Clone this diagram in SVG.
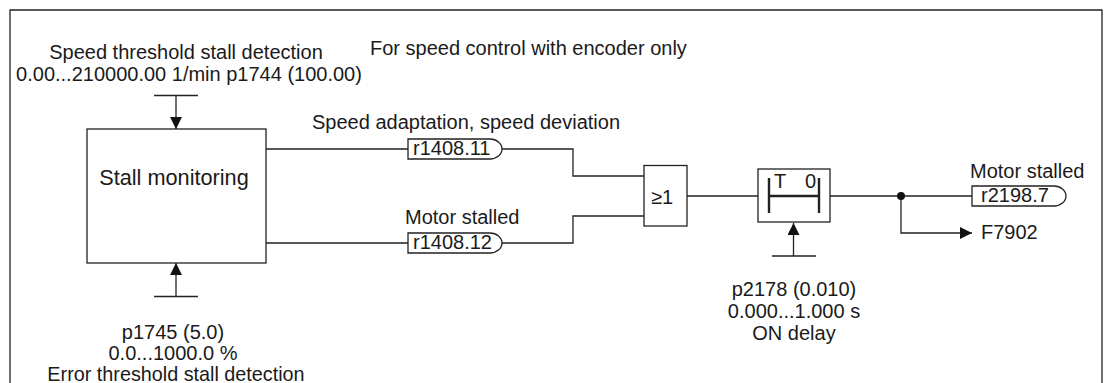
<svg xmlns="http://www.w3.org/2000/svg" width="1111" height="383" viewBox="0 0 1111 383">
<style>
text{font-family:"Liberation Sans",Arial,sans-serif;font-size:20px;fill:#1a1a1a}
.m{text-anchor:middle}
.s{fill:#fff;stroke:#222;stroke-width:1.3}
.l{fill:none;stroke:#222;stroke-width:1.3}
.h{fill:none;stroke:#222;stroke-width:2.4}
</style>
<defs><marker id="a" markerUnits="userSpaceOnUse" markerWidth="12" markerHeight="12" refX="12" refY="6" orient="auto"><path d="M0 0L12 6L0 12z" fill="#111"/></marker></defs>
<rect width="1111" height="383" fill="#fff"/>
<path class="l" d="M10 383V10H1102V383"/>
<g id="connectors">
<path class="l" d="M154 95.5H198M176 95.5V129" marker-end="url(#a)"/>
<path class="l" d="M154 296.5H198M176 296.5V263" marker-end="url(#a)"/>
<path class="l" d="M266 149H408M502 149H573V176H644"/>
<path class="l" d="M266 243H408M502 243H573V216H644"/>
<path class="l" d="M687 196H758M830 196H972"/>
<path class="l" d="M901 196V233H972" marker-end="url(#a)"/>
<path class="l" d="M772 256H816M793.500 256V223" marker-end="url(#a)"/>
<circle cx="901" cy="196" r="4" fill="#111"/>
</g>
<g id="caption"><text x="370" y="54.500">For speed control with encoder only</text></g>
<g id="param-speed"><text class="m" x="186" y="59">Speed threshold stall detection</text><text class="m" x="189" y="81">0.00...210000.00 1/min p1744 (100.00)</text></g>
<g id="stall-monitoring"><rect class="s" x="87" y="129" width="179" height="134"/><text class="m" x="174" y="185" style="font-size:21.700px">Stall monitoring</text></g>
<g id="param-error"><text class="m" x="173" y="339">p1745 (5.0)</text><text class="m" x="173" y="360">0.0...1000.0 %</text><text class="m" x="176" y="381" style="font-size:19.800px">Error threshold stall detection</text></g>
<g id="r1408-11"><text x="312" y="129">Speed adaptation, speed deviation</text><path class="s" d="M408 139H490A12 10 0 0 1 490 159H408Z"/><text x="413" y="155">r1408.11</text></g>
<g id="r1408-12"><text x="405" y="224">Motor stalled</text><path class="s" d="M408 233H490A12 10 0 0 1 490 253H408Z"/><text x="413" y="249">r1408.12</text></g>
<g id="or-gate"><rect class="s" x="644" y="165.500" width="43" height="60.500"/><text x="651" y="204">≥1</text></g>
<g id="on-delay"><rect class="s" x="758" y="169" width="72" height="53"/><path class="h" d="M769 178V213M819 178V213"/><path class="h" d="M769 196H819"/><text x="774" y="188">T</text><text x="805" y="188">0</text></g>
<g id="param-delay"><text class="m" x="794" y="296">p2178 (0.010)</text><text class="m" x="794" y="318">0.000...1.000 s</text><text class="m" x="794" y="340">ON delay</text></g>
<g id="r2198-7"><text x="970" y="178">Motor stalled</text><path class="s" d="M972 186H1054A12 10 0 0 1 1054 206H972Z"/><text x="981" y="202">r2198.7</text></g>
<g id="f7902"><text x="981" y="239">F7902</text></g>
</svg>
